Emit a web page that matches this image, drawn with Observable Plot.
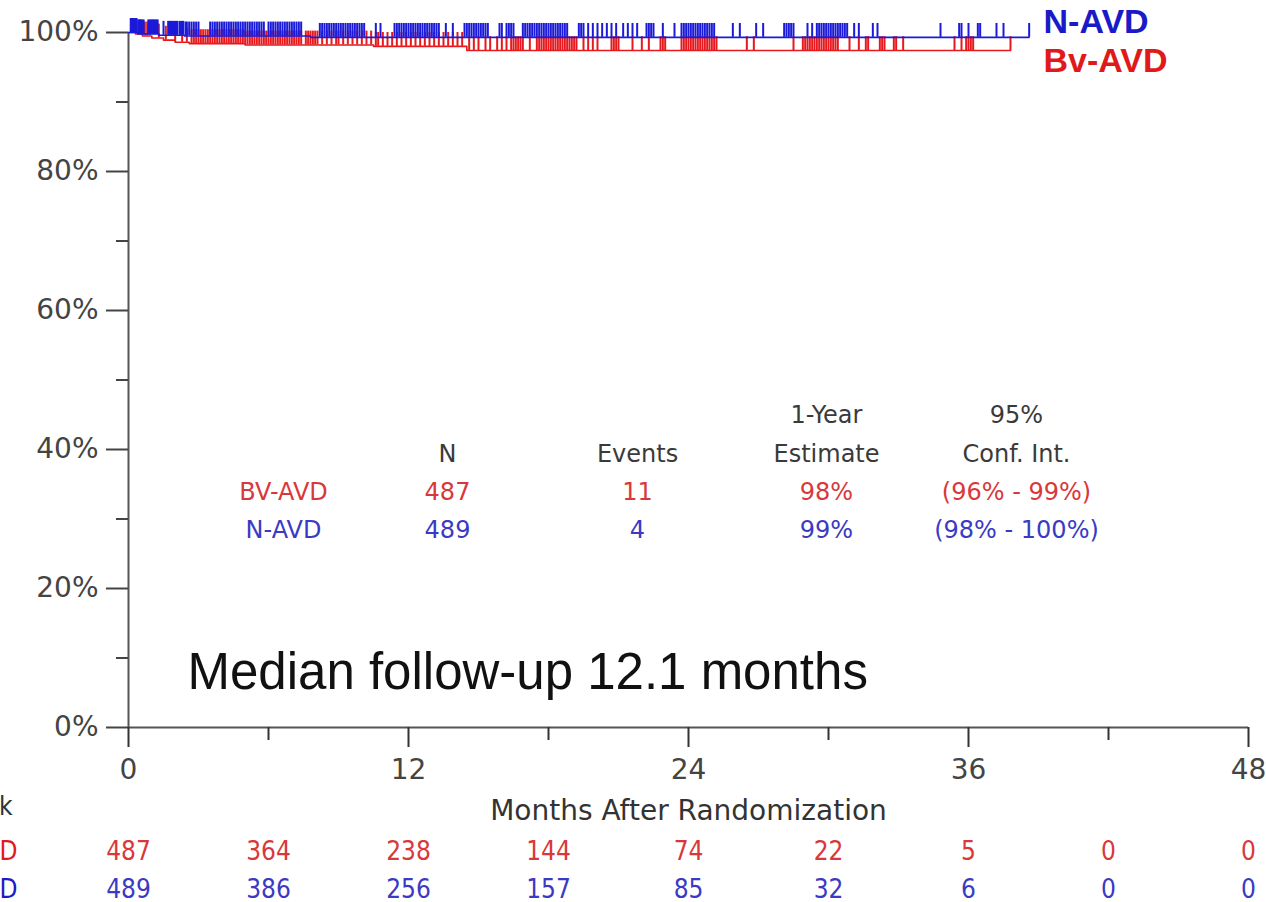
<!DOCTYPE html>
<html>
<head>
<meta charset="utf-8">
<script src="https://cdn.jsdelivr.net/npm/d3@7"></script>
<script src="https://cdn.jsdelivr.net/npm/@observablehq/plot@0.6"></script>
<style>
  html, body { margin: 0; padding: 0; background: #fff; overflow: hidden; }
  #chart svg { overflow: visible; display: block; }
</style>
</head>
<body>
<div id="chart"></div>
<script>
// ---- Data ----
const riskMonths = [0, 6, 12, 18, 24, 30, 36, 42, 48];
const riskBv = [487, 364, 238, 144, 74, 22, 5, 0, 0];
const riskN = [489, 386, 256, 157, 85, 32, 6, 0, 0];

// Kaplan-Meier steps (months, survival %)
const bvTimes = [0, 0.3, 0.6, 1.0, 1.5, 2.0, 2.6, 5.0, 10.5, 14.5, 37.8];
const bvSurv = [100, 99.8, 99.5, 99.2, 98.9, 98.6, 98.4, 98.2, 98.0, 97.4, 97.4];
const nTimes = [0, 0.4, 1.3, 2.4, 7.8, 38.6];
const nSurv = [100, 99.8, 99.6, 99.5, 99.3, 99.3];

// Censoring times (months)
const bvCensor = [0.1,0.2,0.3,0.4,0.5,0.6,0.7,0.8,0.9,1.3,1.6,2.0,2.3,2.5,2.7,2.8,2.9,3.0,3.1,3.2,3.3,3.4,3.5,3.6,3.7,3.8,3.9,4.0,4.1,4.2,4.3,4.4,4.5,4.6,4.7,4.8,4.9,5.0,5.1,5.2,5.3,5.4,5.5,5.6,5.7,5.8,5.9,6.0,6.1,6.2,6.3,6.4,6.5,6.6,6.7,6.8,6.9,7.0,7.1,7.2,7.3,7.4,7.6,7.7,7.8,7.9,8.0,8.1,8.3,8.5,8.7,8.9,9.0,9.2,9.4,9.6,9.8,10.0,10.2,10.4,10.6,10.7,10.9,11.1,11.3,11.5,11.7,11.9,12.1,12.3,12.5,12.7,12.9,13.1,13.3,13.5,13.7,13.9,14.1,14.3,14.6,14.8,15.0,15.3,15.5,15.8,16.0,16.2,16.4,16.5,16.6,16.7,16.8,16.9,17.2,17.5,17.6,17.7,17.8,17.9,18.0,18.1,18.2,18.3,18.4,18.5,18.6,18.7,18.8,18.9,19.0,19.1,19.2,19.5,19.7,19.9,20.1,20.7,20.8,20.9,21.0,21.6,22.0,22.3,22.8,22.9,23.0,23.7,23.8,23.9,24.0,24.1,24.2,24.3,24.4,24.5,24.6,24.7,24.8,24.9,25.0,25.1,25.2,26.5,26.8,28.5,28.9,29.0,29.1,29.2,29.3,29.4,29.5,29.6,29.7,29.8,29.9,30.0,30.1,30.2,30.3,30.4,30.9,31.3,31.6,31.7,32.2,32.3,32.4,32.8,32.9,33.2,35.4,35.7,35.9,36.0,36.1,36.2,37.8];
const nCensor = [0.1,0.15,0.2,0.25,0.3,0.35,0.45,0.5,0.55,0.6,0.65,0.85,0.9,0.95,1.0,1.05,1.1,1.15,1.2,1.25,1.5,1.7,1.75,1.8,1.85,1.9,1.95,2.0,2.05,2.1,2.2,2.25,2.3,2.35,2.45,2.5,2.6,2.7,2.8,2.9,3.0,3.5,3.6,3.7,3.8,3.9,4.0,4.1,4.2,4.3,4.4,4.5,4.6,4.7,4.8,4.9,5.0,5.1,5.2,5.3,5.4,5.5,5.6,5.7,5.8,6.0,6.1,6.2,6.3,6.4,6.5,6.6,6.7,6.8,6.9,7.0,7.1,7.2,7.3,7.4,8.2,8.3,8.4,8.5,8.6,8.7,8.8,8.9,9.0,9.1,9.2,9.3,9.4,9.5,9.6,9.7,9.8,9.9,10.0,10.1,10.6,10.8,11.4,11.5,11.6,11.7,11.8,11.9,12.0,12.1,12.2,12.3,12.4,12.5,12.6,12.7,12.8,12.9,13.0,13.1,13.2,13.3,13.6,13.9,14.4,14.5,14.6,14.7,14.8,14.9,15.0,15.1,15.2,15.3,15.4,15.9,16.0,16.2,16.3,16.4,16.5,16.9,17.0,17.1,17.2,17.3,17.4,17.5,17.6,17.7,17.8,17.9,18.0,18.1,18.2,18.3,18.4,18.5,18.6,18.7,18.8,19.3,19.4,19.5,19.7,19.9,20.1,20.3,20.5,20.7,20.9,21.2,21.4,21.6,21.8,22.2,22.3,22.4,22.5,22.9,23.4,23.7,23.8,23.9,24.0,24.1,24.2,24.3,24.4,24.5,24.6,24.7,24.8,24.9,25.0,25.1,25.9,26.2,26.9,27.2,28.1,28.2,28.3,28.4,28.5,29.1,29.3,29.5,29.6,29.7,29.8,29.9,30.0,30.1,30.2,30.3,30.4,30.5,30.6,30.7,30.8,31.1,31.3,31.9,32.1,34.8,35.6,35.7,36.0,36.4,36.5,37.2,37.5,38.6];

// Summary table
const tableGroups = ["BV-AVD", "N-AVD"];
const tableN = [487, 489];
const tableEvents = [11, 4];
const tableEstimate = ["98%", "99%"];
const tableCI = ["(96% - 99%)", "(98% - 100%)"];
const tableHead1 = ["", "", "", "1-Year", "95%"];
const tableHead2 = ["", "N", "Events", "Estimate", "Conf. Int."];

const yTicks = [0, 20, 40, 60, 80, 100];
const yMinor = [10, 30, 50, 70, 90];
const xTicks = [0, 12, 24, 36, 48];
const xMinor = [6, 18, 30, 42];

// ---- Derived ----
const RED = "#e8191c", BLUE = "#1a1ad8";
const TRED = "#d9383a", TBLUE = "#3a3ac4";
const GRAY = "#3a3a3a";
const FONT = "'DejaVu Sans', sans-serif";
const CFONT = "'DejaVu Sans Condensed', 'DejaVu Sans', sans-serif";
const ARIAL = "'Liberation Sans', Arial, sans-serif";

function survAt(times, survs, t) {
  let s = survs[0];
  for (let i = 0; i < times.length; i++) if (times[i] <= t) s = survs[i];
  return s;
}
const bvLine = bvTimes.map((t, i) => ({t, s: bvSurv[i]}));
const nLine = nTimes.map((t, i) => ({t, s: nSurv[i]}));
const bvCens = bvCensor.map(t => ({t, s: survAt(bvTimes, bvSurv, t)}));
const nCens = nCensor.map(t => ({t, s: survAt(nTimes, nSurv, t)}));

// table column centres (px from frame left) & row centres (px from frame top)
const colDx = [155, 319, 509, 698, 888];
const rowDy = [383, 422, 460, 498];
const tableCells = [];
tableHead1.forEach((v, c) => tableCells.push({text: v, c, r: 0, fill: GRAY}));
tableHead2.forEach((v, c) => tableCells.push({text: v, c, r: 1, fill: GRAY}));
tableGroups.forEach((g, i) => {
  const fill = i === 0 ? TRED : TBLUE;
  [g, tableN[i], tableEvents[i], tableEstimate[i], tableCI[i]].forEach((v, c) =>
    tableCells.push({text: String(v), c, r: 2 + i, fill}));
});

const marks = [
  // axis lines
  Plot.ruleX([0], {y1: 0, y2: 100, stroke: "#555", strokeWidth: 2}),
  Plot.ruleY([0], {x1: 0, x2: 48, stroke: "#555", strokeWidth: 2}),
  Plot.axisY({ticks: yTicks, tickFormat: d => d + "%", tickSize: 22, tickPadding: 8,
    fontSize: 28, fontFamily: FONT, stroke: "#444", fill: "#444", strokeWidth: 2, label: null}),
  Plot.axisY({ticks: yMinor, tickFormat: () => "", tickSize: 12, stroke: "#444", strokeWidth: 2, label: null}),
  Plot.axisX({ticks: xTicks, tickSize: 20, tickPadding: 12, fontSize: 28,
    fontFamily: FONT, stroke: "#333", fill: "#444", strokeWidth: 2, label: null}),
  Plot.axisX({ticks: xMinor, tickFormat: () => "", tickSize: 13, stroke: "#333", strokeWidth: 2, label: null}),
  // censor ticks & curves
  Plot.ruleX(bvCens, {x: "t", y1: "s", y2: d => d.s + 2, stroke: RED, strokeWidth: 2}),
  Plot.line(bvLine, {x: "t", y: "s", curve: "step-after", stroke: RED, strokeWidth: 1.6}),
  Plot.ruleX(nCens, {x: "t", y1: "s", y2: d => d.s + 2, stroke: BLUE, strokeWidth: 2}),
  Plot.line(nLine, {x: "t", y: "s", curve: "step-after", stroke: BLUE, strokeWidth: 1.6}),
  // legend
  Plot.text(["N-AVD"], {frameAnchor: "top-left", dx: 915, dy: -10, text: d => d, textAnchor: "start",
    lineAnchor: "middle", fill: "#1a1ac8", fontSize: 34, fontWeight: "bold", fontFamily: ARIAL}),
  Plot.text(["Bv-AVD"], {frameAnchor: "top-left", dx: 915, dy: 29, text: d => d, textAnchor: "start",
    lineAnchor: "middle", fill: "#e01a1a", fontSize: 34, fontWeight: "bold", fontFamily: ARIAL}),
  // axis title
  Plot.text(["Months After Randomization"], {frameAnchor: "bottom", dy: 84, text: d => d,
    lineAnchor: "middle", fill: "#333", fontSize: 28, fontFamily: FONT}),
  // median follow-up
  Plot.text(["Median follow-up 12.1 months"], {frameAnchor: "top-left", dx: 59, dy: 640, text: d => d,
    textAnchor: "start", lineAnchor: "middle", fill: "#111", fontSize: 51, fontFamily: ARIAL}),
  // at risk
  Plot.text(riskMonths, {x: d => d, text: (d, i) => String(riskBv[i]), frameAnchor: "bottom", dy: 124,
    lineAnchor: "middle", fill: TRED, fontSize: 26, fontFamily: CFONT}),
  Plot.text(riskMonths, {x: d => d, text: (d, i) => String(riskN[i]), frameAnchor: "bottom", dy: 162,
    lineAnchor: "middle", fill: TBLUE, fontSize: 26, fontFamily: CFONT}),
  Plot.text(["No. at Risk"], {frameAnchor: "bottom-left", dx: -116, dy: 79, text: d => d, textAnchor: "end",
    lineAnchor: "middle", fill: "#333", fontSize: 26, fontFamily: CFONT}),
  Plot.text(["Bv-AVD"], {frameAnchor: "bottom-left", dx: -111, dy: 124, text: d => d, textAnchor: "end",
    lineAnchor: "middle", fill: "#e01a1a", fontSize: 26, fontFamily: CFONT}),
  Plot.text(["N-AVD"], {frameAnchor: "bottom-left", dx: -111, dy: 162, text: d => d, textAnchor: "end",
    lineAnchor: "middle", fill: "#1a1ac8", fontSize: 26, fontFamily: CFONT})
];

// summary table: one text mark per cell (per-cell pixel offsets)
tableCells.forEach(cell => {
  marks.push(Plot.text([cell], {frameAnchor: "top-left", dx: colDx[cell.c], dy: rowDy[cell.r],
    text: "text", fill: "fill", textAnchor: "middle", lineAnchor: "middle", fontSize: 24, fontFamily: FONT}));
});

const plot = Plot.plot({
  width: 1266,
  height: 902,
  marginLeft: 128,
  marginRight: 18,
  marginTop: 32,
  marginBottom: 175,
  x: {domain: [0, 48]},
  y: {domain: [0, 100]},
  style: {background: "#fff"},
  marks
});
document.getElementById("chart").appendChild(plot);
</script>
</body>
</html>
